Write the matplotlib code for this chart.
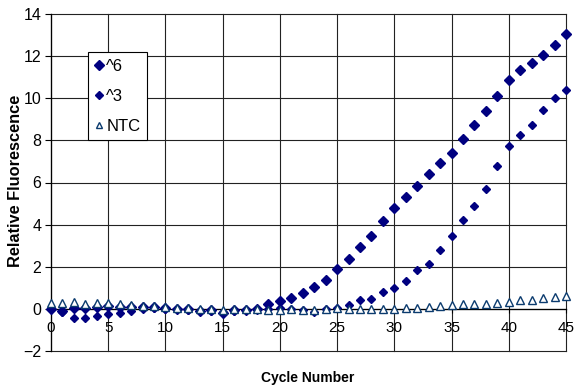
import matplotlib
matplotlib.use("Agg")
import matplotlib.pyplot as plt
from matplotlib.lines import Line2D
from matplotlib import font_manager

NAVY = "#000080"
TRI_EDGE = "#0b3b6e"

cycles = list(range(46))

pos6 = [0.0, -0.12, 0.03, 0.05, 0.10, 0.12, 0.10, 0.08, 0.08, 0.10,
        0.03, 0.0, 0.0, -0.10, -0.06, -0.18, -0.06, -0.03, 0.0, 0.22,
        0.36, 0.52, 0.77, 1.03, 1.39, 1.87, 2.39, 2.94, 3.48, 4.19,
        4.77, 5.31, 5.84, 6.39, 6.93, 7.38, 8.06, 8.74, 9.41, 10.10,
        10.88, 11.32, 11.69, 12.03, 12.54, 13.07]

pos3 = [0.0, -0.16, -0.44, -0.44, -0.36, -0.25, -0.20, -0.10, -0.02, 0.05,
        0.0, -0.02, -0.03, -0.10, -0.08, -0.16, -0.08, -0.05, -0.02, 0.0,
        0.02, 0.0, -0.05, -0.13, 0.0, 0.06, 0.20, 0.43, 0.46, 0.78,
        0.99, 1.33, 1.86, 2.14, 2.80, 3.46, 4.24, 4.87, 5.69, 6.78,
        7.75, 8.24, 8.74, 9.46, 10.00, 10.41]

ntc = [0.27, 0.30, 0.33, 0.25, 0.27, 0.27, 0.22, 0.19, 0.14, 0.14,
       0.08, 0.06, 0.06, 0.0, 0.0, -0.03, 0.0, 0.0, 0.0, -0.05,
       -0.05, -0.02, -0.05, -0.05, 0.0, 0.03, 0.0, 0.0, 0.0, 0.0,
       0.0, 0.06, 0.06, 0.09, 0.15, 0.17, 0.22, 0.22, 0.25, 0.30,
       0.35, 0.42, 0.42, 0.50, 0.55, 0.60]

labels = ["^6", "^3", "NTC"]
x_ticks = list(range(0, 46, 5))
y_ticks = list(range(-2, 15, 2))

plt.rcParams["font.family"] = ["Liberation Sans", "DejaVu Sans"]

installed = {f.name for f in font_manager.fontManager.ttflist}
narrow = "Liberation Sans Narrow" if "Liberation Sans Narrow" in installed else None

fig = plt.figure(figsize=(5.74, 3.91), dpi=100)
ax = fig.add_axes([51 / 574, 1 - 351 / 391, 515 / 574, 337 / 391])

ax.plot(cycles, pos6, linestyle="none", marker="D", markersize=5.0,
        color=NAVY, zorder=3, clip_on=False)
ax.plot(cycles, pos3, linestyle="none", marker="D", markersize=3.6,
        color=NAVY, zorder=3, clip_on=False)
ax.plot(cycles, ntc, linestyle="none", marker="^", markersize=5.5,
        markerfacecolor="white", markeredgecolor=TRI_EDGE,
        markeredgewidth=1.0, zorder=4, clip_on=False)

ax.set_xlim(0, 45)
ax.set_ylim(-2, 14)
ax.set_xticks(x_ticks)
ax.set_yticks(y_ticks)

# gridlines drawn as plain lines so the border ones show fully
for xv in x_ticks:
    ax.axvline(xv, color="#222222", linewidth=0.8, zorder=1, clip_on=False)
for yv in y_ticks:
    ax.axhline(yv, color="#222222", linewidth=0.8, zorder=1, clip_on=False)

for side in ("top", "right"):
    ax.spines[side].set_visible(False)
ax.spines["bottom"].set_position(("data", 0))
ax.spines["bottom"].set_linewidth(0.9)
ax.spines["left"].set_linewidth(0.9)

ax.tick_params(axis="x", direction="out", length=3, width=0.8,
               labelsize=11, pad=6)
ax.tick_params(axis="y", direction="out", length=4, width=0.8,
               labelsize=11.5, pad=3)

fig.text(16 / 574, 1 - 181 / 391, "Relative Fluorescence", rotation=90,
         ha="center", va="center", fontsize=11.8, fontweight="bold")
if narrow:
    fig.text(308 / 574, 1 - 378 / 391, "Cycle Number", ha="center",
             va="center", fontsize=11.5, fontweight="bold", family=narrow)
else:
    fig.text(308 / 574, 1 - 378 / 391, "Cycle Number", ha="center",
             va="center", fontsize=10, fontweight="bold")

handles = [
    Line2D([], [], linestyle="none", marker="D", markersize=5.0, color=NAVY),
    Line2D([], [], linestyle="none", marker="D", markersize=3.6, color=NAVY),
    Line2D([], [], linestyle="none", marker="^", markersize=4.5,
           markerfacecolor="white", markeredgecolor=TRI_EDGE,
           markeredgewidth=1.0),
]
leg = fig.legend(handles, labels, loc="upper left",
                 bbox_to_anchor=(88 / 574, 1 - 52 / 391), fontsize=12,
                 frameon=True, fancybox=False, edgecolor="black",
                 framealpha=1, handlelength=0.5, handletextpad=0.2,
                 borderpad=0.4, labelspacing=0.9, borderaxespad=0)
leg.get_frame().set_linewidth(0.8)

fig.savefig("out.png", dpi=100)
